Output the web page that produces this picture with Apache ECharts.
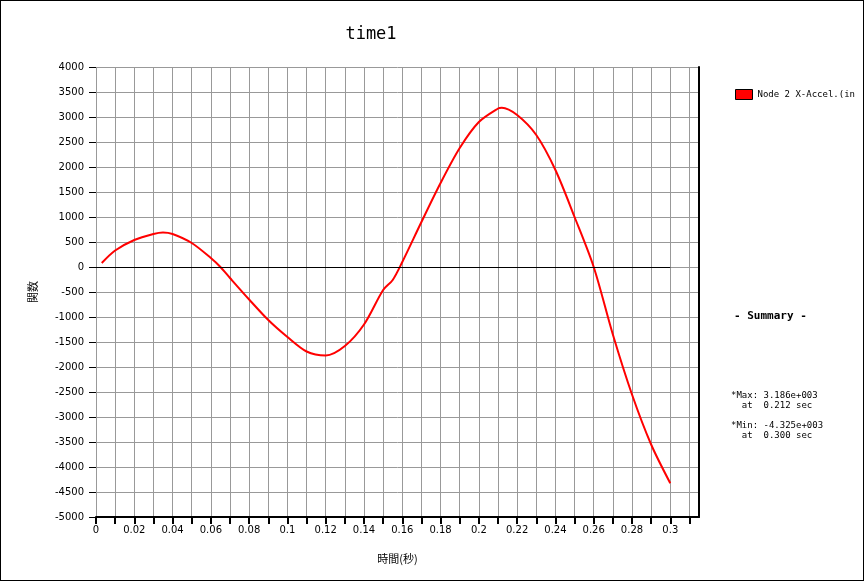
<!DOCTYPE html>
<html><head><meta charset="utf-8">
<script src="https://cdn.jsdelivr.net/npm/echarts@6/dist/echarts.min.js"></script>
<style>html,body{margin:0;padding:0;background:#fff}#c{width:864px;height:581px;box-sizing:border-box;border:1px solid #000}</style>
</head><body><div id="c"></div>
<script>
const times = [0.003,0.01,0.02,0.03,0.035,0.04,0.05,0.06,0.065,0.07,0.08,0.09,0.10,0.11,0.12,0.13,0.14,0.15,0.155,0.16,0.17,0.18,0.19,0.20,0.21,0.212,0.22,0.23,0.24,0.25,0.26,0.27,0.28,0.29,0.30];
const values = [80,330,540,660,690,660,480,180,0,-220,-650,-1060,-1400,-1690,-1770,-1580,-1150,-460,-260,100,900,1680,2380,2900,3170,3186,3040,2640,1940,1000,0,-1350,-2550,-3550,-4325];
const seriesName = 'Node 2 X-Accel.(in';
const summaryLines = ['- Summary -','*Max: 3.186e+003','  at  0.212 sec','*Min: -4.325e+003','  at  0.300 sec'];
const font = 'DejaVu Sans';
const chart = echarts.init(document.getElementById('c'));
chart.setOption({
  animation:false,
  title:{text:'time1',left:365,top:20,textAlign:'center',textStyle:{fontFamily:'DejaVu Sans Mono',fontSize:17,fontWeight:'normal',color:'#000'}},
  legend:{left:729,top:83,icon:'rect',itemWidth:17,itemHeight:10,itemGap:5,textStyle:{fontFamily:'DejaVu Sans Mono',fontSize:9,color:'#000'},itemStyle:{borderColor:'#000',borderWidth:1},data:[seriesName]},
  graphic:[
    {type:'text',left:733,top:310,style:{text:summaryLines[0],font:'bold 11px "DejaVu Sans Mono"',fill:'#000'}},
    {type:'text',left:730,top:390,style:{text:summaryLines[1]+'\n'+summaryLines[2]+'\n\n'+summaryLines[3]+'\n'+summaryLines[4],font:'9px "DejaVu Sans Mono"',fill:'#000',lineHeight:10}}
  ],
  grid:{left:95,right:164,top:66,bottom:63},
  xAxis:{type:'value',min:0,max:0.315,interval:0.01,
    name:'時間(秒)',nameLocation:'middle',nameGap:36,nameTextStyle:{fontFamily:'Noto Sans CJK JP',fontSize:11,color:'#000'},
    axisLine:{show:true,onZero:false,lineStyle:{color:'#000',width:2}},
    axisTick:{show:true,length:7,lineStyle:{color:'#000',width:2}},
    axisLabel:{fontFamily:font,fontSize:10,color:'#000',margin:8,showMaxLabel:false,
      formatter:v=>{const k=Math.round(v*100);if(k%2!==0)return '';return k===0?'0':String(+(k/100).toFixed(2));}},
    splitLine:{show:true,lineStyle:{color:'#999',width:1}}},
  yAxis:[{type:'value',min:-5000,max:4000,interval:500,
    name:'関数',nameLocation:'middle',nameGap:58,nameRotate:90,nameTextStyle:{fontFamily:'Noto Sans CJK JP',fontSize:11,color:'#000'},
    axisLine:{show:false},
    axisTick:{show:true,length:7,lineStyle:{color:'#000',width:1}},
    axisLabel:{fontFamily:font,fontSize:10,color:'#000',margin:12,formatter:v=>String(v)},
    splitLine:{show:true,lineStyle:{color:'#999',width:1}}},
   {type:'value',position:'right',min:-5000,max:4000,interval:500,axisLine:{show:true,lineStyle:{color:'#000',width:2}},axisTick:{show:false},axisLabel:{show:false},splitLine:{show:false}}],
  series:[{name:seriesName,type:'line',smooth:0.3,symbol:'none',data:times.map((t,i)=>[t,values[i]]),
    lineStyle:{color:'#f00',width:2},itemStyle:{color:'#f00'},
    markLine:{silent:true,symbol:'none',label:{show:false},lineStyle:{color:'#000',width:1,type:'solid'},
      data:[[{coord:[0,0]},{coord:[0.3,0]}]]}}]
});
</script></body></html>
